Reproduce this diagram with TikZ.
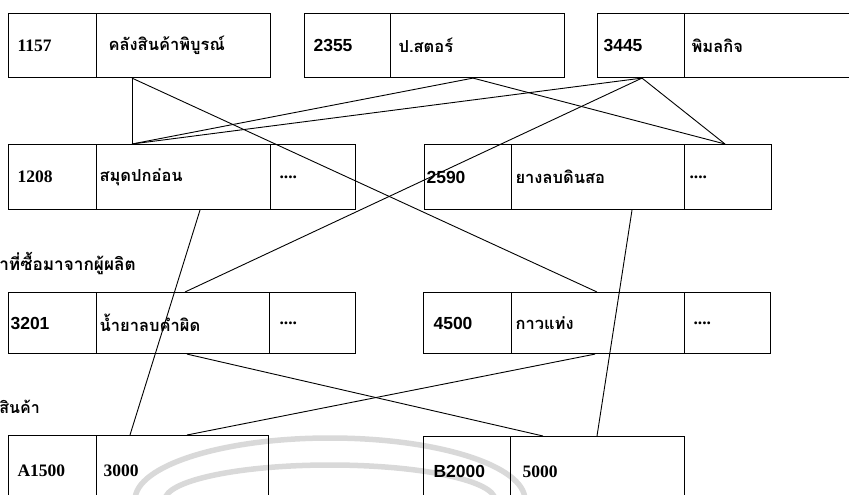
\documentclass[tikz,border=0pt]{standalone}
\usepackage{fontspec}
\setmainfont{Liberation Serif}
\newfontfamily\sansnum{Liberation Sans}
\newfontfamily\thaifont[Script=Thai]{Loma}
\newcommand\thaitxt{\thaifont\fontsize{16.5}{19}\selectfont}
\usetikzlibrary{calc}

\tikzset{
	cell/.style n args={3}{draw, line width=1.1pt, anchor=north west, align=left, text width=#1, minimum height=#2, inner xsep=#3, inner ysep=0pt, font=\bfseries\fontsize{17.5}{20}\selectfont},
	link/.style={line width=0.9pt},
	stamp/.style={line width=5.5pt, black!15},
	caption/.style={anchor=base east, inner sep=0pt, font=\thaifont\bfseries\fontsize{17.2}{20}\selectfont}
}

\begin{document}
\begin{tikzpicture}[x=1pt, y=-1pt]
				%%%%% START %%%%%
				\useasboundingbox (0,0) rectangle (849,495);
				\clip (0,0) rectangle (849,495);
				
				% watermark
				\draw[stamp] (135,500) arc[start angle=180, end angle=360, x radius=195, y radius=62];
				\draw[stamp] (165,500) arc[start angle=180, end angle=360, x radius=165, y radius=35];
				
				% suppliers
				\node[cell={70pt}{64pt}{9pt}] (k1157) at (8,13) {1157};
				\node[cell={150pt}{64pt}{12pt}] (n1157) at (96,13) {\thaitxt คลังสินค้าพิบูรณ์};
				\node[cell={68pt}{64pt}{9pt}] (k2355) at (304,13) {\sansnum 2355};
				\node[cell={158pt}{64pt}{8pt}] (n2355) at (390,13) {\thaitxt ป.สตอร์};
				\node[cell={75pt}{64pt}{6pt}] (k3445) at (597,13) {\sansnum 3445};
				\node[cell={166pt}{64pt}{7pt}] (n3445) at (684,13) {\thaitxt พิมลกิจ};
				
				% goods
				\node[cell={70pt}{65pt}{9pt}] (k1208) at (8,144) {1208};
				\node[cell={168pt}{65pt}{3pt}] (n1208) at (96,144) {\thaitxt สมุดปกอ่อน};
				\node[cell={67pt}{65pt}{9pt}] (e1208) at (270,144) {....};
				\node[cell={83pt}{65pt}{2pt}] (k2590) at (424,144) {\sansnum 2590};
				\node[cell={165pt}{65pt}{4pt}] (n2590) at (511,144) {\thaitxt ยางลบดินสอ};
				\node[cell={77pt}{65pt}{5pt}] (e2590) at (684,144) {....};
				
				\node[caption] (lblbuy) at (136,270) {สินค้าที่ซื้อมาจากผู้ผลิต};
				
				\node[cell={84pt}{61pt}{2pt}] (k3201) at (8,292) {\sansnum 3201};
				\node[cell={167pt}{61pt}{3pt}] (n3201) at (96,292) {\thaitxt น้ำยาลบคำผิด};
				\node[cell={66pt}{61pt}{10pt}] (e3201) at (269,292) {....};
				\node[cell={68pt}{61pt}{10pt}] (k4500) at (423,292) {\sansnum 4500};
				\node[cell={165pt}{61pt}{4pt}] (n4500) at (511,292) {\thaitxt กาวแท่ง};
				\node[cell={68pt}{61pt}{9pt}] (e4500) at (684,292) {....};
				
				\node[caption, font=\thaifont\bfseries\fontsize{16}{19}\selectfont] (lblprice) at (40,413) {ราคาขายสินค้า};
				
				% prices
				\node[cell={70pt}{70pt}{9pt}] (kA1500) at (8,435) {A1500};
				\node[cell={158pt}{70pt}{7pt}] (nA1500) at (96,435) {3000};
				\node[cell={67pt}{70pt}{10pt}] (kB2000) at (423,436) {\sansnum B2000};
				\node[cell={150pt}{70pt}{12pt}] (nB2000) at (510,436) {5000};
				
				% links
				\draw[link] ([xshift=36pt]n1157.south west) -- ([xshift=36pt]n1208.north west);
				\draw[link] ([xshift=36pt]n1157.south west) -- ([xshift=86pt]n4500.north west);
				\draw[link] ([xshift=83pt]n2355.south west) -- ([xshift=36pt]n1208.north west);
				\draw[link] ([xshift=45pt]k3445.south west) -- ([xshift=36pt]n1208.north west);
				\draw[link] ([xshift=83pt]n2355.south west) -- ([xshift=41pt]e2590.north west);
				\draw[link] ([xshift=45pt]k3445.south west) -- ([xshift=41pt]e2590.north west);
				\draw[link] ([xshift=45pt]k3445.south west) -- ([xshift=89pt]n3201.north west);
				
				\draw[link] ([xshift=104pt]n1208.south west) -- ([xshift=34pt]nA1500.north west);
				\draw[link] ([xshift=121pt]n2590.south west) -- ([xshift=87pt]nB2000.north west);
				\draw[link] ([xshift=91pt]n3201.south west) -- ([xshift=33pt]nB2000.north west);
				\draw[link] ([xshift=84pt]n4500.south west) -- ([xshift=91pt]nA1500.north west);
				%%%%% END %%%%%
\end{tikzpicture}
\end{document}
